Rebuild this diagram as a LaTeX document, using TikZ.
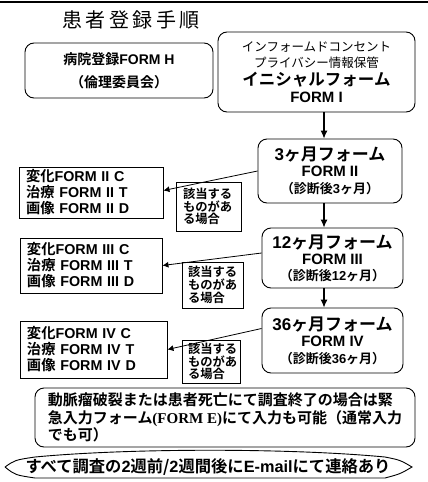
\documentclass[tikz,border=0pt]{standalone}
\usepackage{fontspec}
\setmainfont{Noto Sans CJK JP}[BoldFont={Noto Sans CJK JP Bold}]
\newfontfamily\lat{Liberation Sans}
\newfontfamily\latser{Liberation Serif}
\usetikzlibrary{arrows.meta,calc}
\begin{document}
\begin{tikzpicture}[x=1pt,y=-1pt,
  rbox/.style={draw,rounded corners=9pt,line width=0.9pt,inner sep=0pt,align=center},
  sbox/.style={draw,line width=0.9pt,inner sep=0pt,align=left},
  arr/.style={-{Latex[length=8pt,width=7pt]},line width=1.1pt},
  sarr/.style={-{Latex[length=6pt,width=6pt]},line width=0.8pt},
  lt/.style={font=\bfseries\fontsize{14.3}{16}\selectfont},
  st/.style={font=\bfseries\fontsize{12.3}{12.8}\selectfont}]
\useasboundingbox (0,0) rectangle (428,482);
\fill[white] (0,0) rectangle (428,482);
\draw[line width=2pt] (0,2) -- (428,2);

\node[font=\fontsize{20}{22}\selectfont\addfontfeature{LetterSpace=18}] (title) at (131,20) {患者登録手順};

\node[rbox,minimum width=188pt,minimum height=55pt,font=\bfseries\fontsize{14}{23}\selectfont] (H) at (119,70.5)
  {病院登録{\lat FORM H}\\（倫理委員会）};

\node[rbox,minimum width=197pt,minimum height=80pt,font=\fontsize{12.5}{15}\selectfont] (I) at (316.5,72)
  {インフォームドコンセント\\[1pt]プライバシー情報保管\\[3pt]
   {\bfseries\fontsize{16.5}{18}\selectfont イニシャルフォーム}\\[2pt]
   {\bfseries\lat\fontsize{15}{18}\selectfont FORM I}};

\node[rbox,minimum width=144pt,minimum height=64pt,font=\bfseries\fontsize{13}{15}\selectfont] (II) at (330,171)
  {{\fontsize{17}{18}\selectfont{\lat 3}ヶ月フォーム}\\[1pt]{\lat\fontsize{15}{16}\selectfont FORM II}\\[2pt]（診断後{\lat 3}ヶ月）};

\node[rbox,minimum width=141pt,minimum height=60pt,font=\bfseries\fontsize{13}{15}\selectfont] (III) at (332.5,258)
  {{\fontsize{17}{18}\selectfont{\lat 12}ヶ月フォーム}\\[1pt]{\lat\fontsize{15}{16}\selectfont FORM III}\\[1pt]（診断後{\lat 12}ヶ月）};

\node[rbox,minimum width=141pt,minimum height=65pt,font=\bfseries\fontsize{13}{15}\selectfont] (IV) at (332.5,340.5)
  {{\fontsize{17}{18}\selectfont{\lat 36}ヶ月フォーム}\\[1pt]{\lat\fontsize{15}{16}\selectfont FORM IV}\\[2pt]（診断後{\lat 36}ヶ月）};

\node[sbox,lt,minimum height=51pt,text width=130pt,inner xsep=7pt] (LII) at (91,192.5)
  {変化{\lat FORM II C}\\治療 {\lat FORM II T}\\画像 {\lat FORM II D}};
\node[sbox,lt,minimum height=55pt,text width=128pt,inner xsep=7pt] (LIII) at (91,265.5)
  {変化{\lat FORM III C}\\治療 {\lat FORM III T}\\画像 {\lat FORM III D}};
\node[sbox,lt,minimum height=57pt,text width=133pt,inner xsep=7pt] (LIV) at (93.5,349.5)
  {変化{\lat FORM IV C}\\治療 {\lat FORM IV T}\\画像 {\lat FORM IV D}};

\node[sbox,st,minimum height=49pt,text width=51pt,inner xsep=7pt] (SII) at (208.5,206.5)
  {該当する\\ものがあ\\る場合};
\node[sbox,st,minimum height=46pt,text width=49pt,inner xsep=6pt] (SIII) at (212.5,285)
  {該当する\\ものがあ\\る場合};
\node[sbox,st,minimum height=43pt,text width=46pt,inner xsep=6pt] (SIV) at (211,361.5)
  {該当する\\ものがあ\\る場合};

\node[rbox,align=left,minimum width=380pt,minimum height=59pt,
      font=\bfseries\fontsize{15}{17.5}\selectfont] (E) at (225,417.5)
  {動脈瘤破裂または患者死亡にて調査終了の場合は緊\\急入力フォーム{\latser (FORM E)}にて入力も可能（通常入力\\でも可）};

\node[font=\bfseries\fontsize{16.3}{17}\selectfont] (mail) at (208,467) {すべて調査の{\lat 2}週前/{\lat 2}週間後に{\lat E-mail}にて連絡あり};
\draw[line width=0.9pt] (5,467) .. controls (15,460) .. (35,457) .. controls (130,448) and (290,448) .. (385,457)
  .. controls (400,460) .. (412,467) .. controls (400,474) .. (385,478) -- (35,478) .. controls (15,475) .. (5,467);

\coordinate (ax) at (324,0);
\draw[arr] (I.south -| ax) -- (II.north -| ax);
\draw[arr] (II.south -| ax) -- (III.north -| ax);
\draw[arr] (III.south -| ax) -- (IV.north -| ax);

\draw[sarr] (II.west) -- ([yshift=2pt]LII.east);
\draw[sarr] ([yshift=5pt]III.west) -- (LIII.east);
\draw[sarr] ([yshift=12pt]IV.west) -- (LIV.east);
\end{tikzpicture}
\end{document}
